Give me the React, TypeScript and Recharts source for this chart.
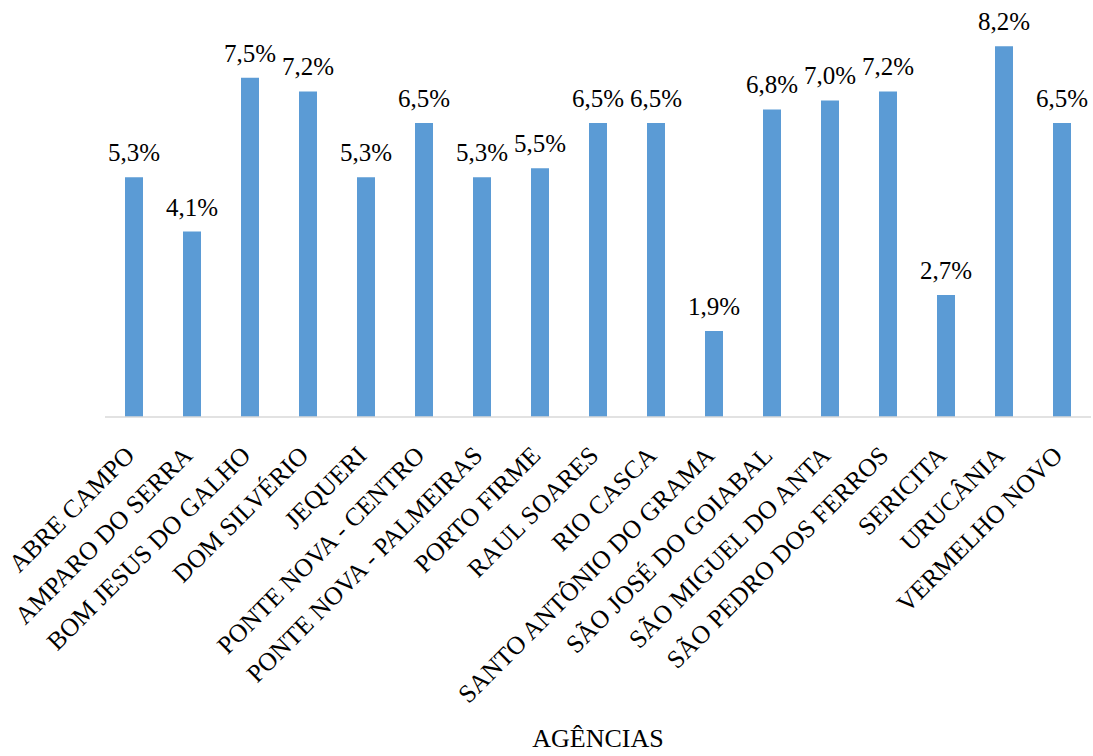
import { BarChart, Bar, XAxis, YAxis, LabelList } from 'recharts';

const agencias: string[] = [
  'ABRE CAMPO',
  'AMPARO DO SERRA',
  'BOM JESUS DO GALHO',
  'DOM SILVÉRIO',
  'JEQUERI',
  'PONTE NOVA - CENTRO',
  'PONTE NOVA - PALMEIRAS',
  'PORTO FIRME',
  'RAUL SOARES',
  'RIO CASCA',
  'SANTO ANTÔNIO DO GRAMA',
  'SÃO JOSÉ DO GOIABAL',
  'SÃO MIGUEL DO ANTA',
  'SÃO PEDRO DOS FERROS',
  'SERICITA',
  'URUCÂNIA',
  'VERMELHO NOVO',
];

const percentuais: number[] = [
  5.3, 4.1, 7.5, 7.2, 5.3, 6.5, 5.3, 5.5, 6.5, 6.5, 1.9, 6.8, 7.0, 7.2, 2.7, 8.2, 6.5,
];

const data = agencias.map((nome, i) => ({ nome, valor: percentuais[i] }));

const FONT = 'Liberation Serif, Times New Roman, serif';

const formatPct = (v: number) => `${Number(v).toFixed(1).replace('.', ',')}%`;

// rotated category label, right end hanging just under the bar
const AgenciaTick = ({ x, y, payload }: any) => {
  const px = x - 4;
  const py = y + 26;
  return (
    <text
      x={px}
      y={py}
      transform={`rotate(-45, ${px}, ${py})`}
      textAnchor="end"
      dominantBaseline="central"
      fontFamily={FONT}
      fontSize={25.5}
      fill="#000"
    >
      {payload.value}
    </text>
  );
};

// value label above each bar
const ValorLabel = ({ x, y, width, value }: any) => (
  <text
    x={x + width / 2}
    y={y - 16}
    textAnchor="middle"
    fontFamily={FONT}
    fontSize={25}
    fill="#000"
  >
    {formatPct(value)}
  </text>
);

const App = () => {
  return (
    <div style={{ position: 'absolute', left: 0, top: 0, background: '#fff' }}>
      <BarChart
        width={1093}
        height={756}
        data={data}
        margin={{ top: 10, right: 2, left: 105, bottom: 0 }}
      >
        <XAxis
          dataKey="nome"
          interval={0}
          height={339}
          tickLine={false}
          axisLine={{ stroke: '#D9D9D9', strokeWidth: 1.5 }}
          tick={<AgenciaTick />}
          label={{
            value: 'AGÊNCIAS',
            position: 'insideBottom',
            offset: 9,
            fontFamily: FONT,
            fontSize: 26,
            fill: '#000',
          }}
        />
        <YAxis hide domain={[0, 9]} />
        <Bar dataKey="valor" fill="#5B9BD5" barSize={18} isAnimationActive={false}>
          <LabelList dataKey="valor" content={<ValorLabel />} />
        </Bar>
      </BarChart>
    </div>
  );
};

export default App;
